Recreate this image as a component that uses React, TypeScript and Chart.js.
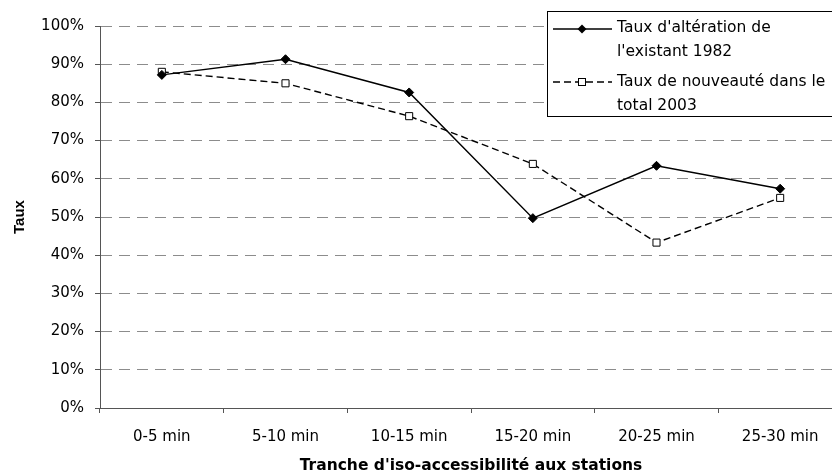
import React, { useEffect, useRef } from "react";
import { Chart, registerables } from "chart.js";

Chart.register(...registerables);

const categories = ["0-5 min", "5-10 min", "10-15 min", "15-20 min", "20-25 min", "25-30 min"];
const seriesAlteration = [87.2, 91.3, 82.6, 49.7, 63.4, 57.4];
const seriesNouveaute = [88.0, 85.0, 76.4, 63.9, 43.3, 55.0];
const legendAlteration = ["Taux d'altération de", "l'existant 1982"];
const legendNouveaute = ["Taux de nouveauté dans le", "total 2003"];
const yTitle = "Taux";
const xTitle = "Tranche d'iso-accessibilité aux stations";

const FONT = "'DejaVu Sans', sans-serif";
const FONT_ARIAL = "'Liberation Sans', Arial, sans-serif";

const legendPlugin = {
  id: "customLegend",
  afterDraw(chart: any) {
    const ctx = chart.ctx as CanvasRenderingContext2D;
    ctx.save();
    const bx = 547.5, by = 11.5, bw = 400, bh = 105;
    ctx.fillStyle = "#ffffff";
    ctx.fillRect(bx, by, bw, bh);
    ctx.strokeStyle = "#000000";
    ctx.lineWidth = 1;
    ctx.strokeRect(bx, by, bw, bh);

    const entries = [
      { text: legendAlteration, y: 29, base: 32, dash: [] as number[], marker: "diamond" },
      { text: legendNouveaute, y: 82, base: 85.5, dash: [7, 4], marker: "square" },
    ];
    ctx.font = `15.5px ${FONT}`;
    ctx.textBaseline = "alphabetic";
    ctx.textAlign = "left";
    for (const e of entries) {
      ctx.strokeStyle = "#000";
      ctx.lineWidth = 1.3;
      ctx.setLineDash(e.dash);
      ctx.beginPath();
      ctx.moveTo(553, e.y);
      ctx.lineTo(612, e.y);
      ctx.stroke();
      ctx.setLineDash([]);
      const mx = 582;
      if (e.marker === "diamond") {
        ctx.fillStyle = "#000";
        ctx.beginPath();
        ctx.moveTo(mx - 4.5, e.y);
        ctx.lineTo(mx, e.y - 4.5);
        ctx.lineTo(mx + 4.5, e.y);
        ctx.lineTo(mx, e.y + 4.5);
        ctx.closePath();
        ctx.fill();
      } else {
        ctx.fillStyle = "#fff";
        ctx.fillRect(mx - 3.5, e.y - 3.5, 7, 7);
        ctx.lineWidth = 1;
        ctx.strokeRect(mx - 3.5, e.y - 3.5, 7, 7);
      }
      ctx.fillStyle = "#000";
      e.text.forEach((t, i) => ctx.fillText(t, 617, e.base + i * 24));
    }
    ctx.restore();
  },
};

export default function App() {
  const ref = useRef<HTMLCanvasElement | null>(null);
  useEffect(() => {
    if (!ref.current) return;
    const chart = new Chart(ref.current, {
      type: "line",
      data: {
        labels: categories,
        datasets: [
          {
            label: legendAlteration.join(" "),
            data: seriesAlteration,
            borderColor: "#000",
            backgroundColor: "#000",
            borderWidth: 1.4,
            pointStyle: "rectRot",
            pointRadius: 4.5,
            pointBorderWidth: 1,
            pointBackgroundColor: "#000",
            pointBorderColor: "#000",
            tension: 0,
          },
          {
            label: legendNouveaute.join(" "),
            data: seriesNouveaute,
            borderColor: "#000",
            backgroundColor: "#fff",
            borderWidth: 1.4,
            borderDash: [7, 4],
            pointStyle: "rect",
            pointRadius: 5,
            pointBorderWidth: 1,
            pointBackgroundColor: "#fff",
            pointBorderColor: "#000",
            tension: 0,
          },
        ],
      },
      options: {
        animation: false,
        responsive: false,
        devicePixelRatio: 1,
        layout: { padding: { top: 26, right: 28, bottom: 0, left: 0 } },
        plugins: {
          legend: { display: false },
          tooltip: { enabled: false },
        },
        scales: {
          x: {
            type: "category",
            offset: true,
            grid: {
              drawOnChartArea: false,
              offset: true,
              drawTicks: true,
              tickLength: 5,
              tickColor: "#555",
            },
            border: { color: "#555", width: 1 },
            ticks: {
              color: "#000",
              font: { family: FONT, size: 15 },
              padding: 15,
              maxRotation: 0,
              autoSkip: false,
            },
            title: {
              display: true,
              text: xTitle,
              color: "#000",
              font: { family: FONT, size: 15.5, weight: "bold" },
              padding: { top: 0, bottom: 1 },
            },
            afterFit: (scale: any) => {
              scale.height = 68;
            },
          },
          y: {
            min: 0,
            max: 100,
            ticks: {
              stepSize: 10,
              color: "#000",
              font: { family: FONT, size: 15 },
              padding: 11,
              callback: (v: any) => v + "%",
            },
            grid: {
              color: "#8c8c8c",
              lineWidth: 1,
              tickLength: 5,
              tickColor: "#555",
            },
            border: { color: "#555", width: 1, dash: [11, 7] },
            title: {
              display: true,
              text: yTitle,
              color: "#000",
              font: { family: FONT_ARIAL, size: 15, weight: "bold" },
              padding: { top: 11, bottom: 0 },
            },
            afterFit: (scale: any) => {
              scale.width = 100;
            },
          },
        },
      },
      plugins: [legendPlugin],
    });
    return () => chart.destroy();
  }, []);
  return (
    <div style={{ position: "fixed", left: 0, top: 0, width: 832, height: 476, overflow: "hidden", background: "#fff" }}>
      <canvas ref={ref} width={870} height={476} style={{ display: "block" }} />
    </div>
  );
}
